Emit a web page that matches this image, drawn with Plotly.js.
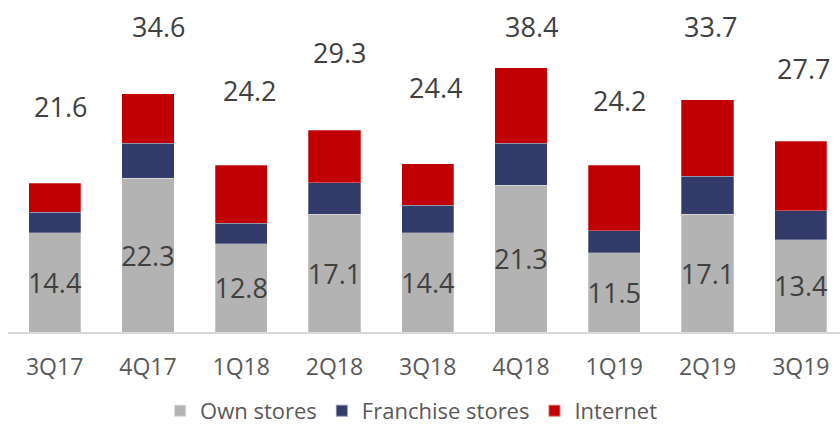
<!DOCTYPE html>
<html>
<head>
<meta charset="utf-8">
<script src="https://cdn.plot.ly/plotly-3.0.1.min.js"></script>
<style>
  html, body { margin: 0; padding: 0; background: #ffffff; }
  #chart { width: 840px; height: 424px; }
</style>
</head>
<body>
<div id="chart"></div>
<script>
// ---- data ----
var categories = ["3Q17", "4Q17", "1Q18", "2Q18", "3Q18", "4Q18", "1Q19", "2Q19", "3Q19"];
var ownStores = [14.4, 22.3, 12.8, 17.1, 14.4, 21.3, 11.5, 17.1, 13.4];
var franchiseStores = [3.0, 5.1, 3.0, 4.6, 4.0, 6.1, 3.2, 5.5, 4.2];
var internet = [4.2, 7.2, 8.4, 7.6, 6.0, 11.0, 9.5, 11.1, 10.1];
var totals = [21.6, 34.6, 24.2, 29.3, 24.4, 38.4, 24.2, 33.7, 27.7];

// placement of the total labels (as in the reference, they float freely above the bars)
var totalLabelY = [32.8, 44.4, 35.1, 40.6, 35.5, 44.4, 33.6, 44.3, 38.2];
var totalLabelXShift = [6, 11, 8, 5, 8, 10, 5, 3, 3];

var FONT = "'Open Sans', 'Noto Sans', 'DejaVu Sans', sans-serif";
var barLine = { color: "rgba(255,255,255,0.45)", width: 0.6 };

var traces = [
  {
    type: "bar", name: "Own stores", x: categories, y: ownStores,
    marker: { color: "#b3b3b3", line: barLine },
    text: ownStores.map(function (v) { return v.toFixed(1); }),
    textposition: "inside", insidetextanchor: "middle", constraintext: "none",
    textangle: 0,
    textfont: { family: FONT, size: 27, color: "#404040" },
    hoverinfo: "x+y+name"
  },
  {
    type: "bar", name: "Franchise stores", x: categories, y: franchiseStores,
    marker: { color: "#323b69", line: barLine },
    textposition: "none", hoverinfo: "x+y+name"
  },
  {
    type: "bar", name: "Internet", x: categories, y: internet,
    marker: { color: "#c00000", line: barLine },
    textposition: "none", hoverinfo: "x+y+name"
  }
];

var annotations = categories.map(function (c, i) {
  return {
    x: c, y: totalLabelY[i], xref: "x", yref: "y",
    text: totals[i].toFixed(1), showarrow: false,
    xshift: totalLabelXShift[i],
    xanchor: "center", yanchor: "middle",
    font: { family: FONT, size: 27, color: "#404040" }
  };
});

var layout = {
  width: 840, height: 424,
  margin: { l: 8, r: 0, t: 0, b: 92, pad: 0, autoexpand: false },
  paper_bgcolor: "#ffffff", plot_bgcolor: "#ffffff",
  barmode: "stack", bargap: 0.44,
  showlegend: true,
  legend: {
    orientation: "h",
    xref: "container", yref: "container",
    x: 0.49, xanchor: "center", y: 0.031, yanchor: "middle",
    font: { family: FONT, size: 22, color: "#595959" },
    traceorder: "normal", itemsizing: "constant", itemwidth: 30
  },
  xaxis: {
    type: "category", range: [-0.5, 8.42],
    showline: true, linecolor: "#d9d9d9", linewidth: 1.5,
    showgrid: false, zeroline: false, ticks: "",
    ticklabelstandoff: 14,
    tickfont: { family: FONT, size: 23, color: "#595959" },
    automargin: false,
    fixedrange: true
  },
  yaxis: {
    visible: false, range: [0, 48.2], showgrid: false, zeroline: false, fixedrange: true
  },
  annotations: annotations,
  font: { family: FONT }
};

Plotly.newPlot("chart", traces, layout, { displayModeBar: false, staticPlot: true });
</script>
</body>
</html>
